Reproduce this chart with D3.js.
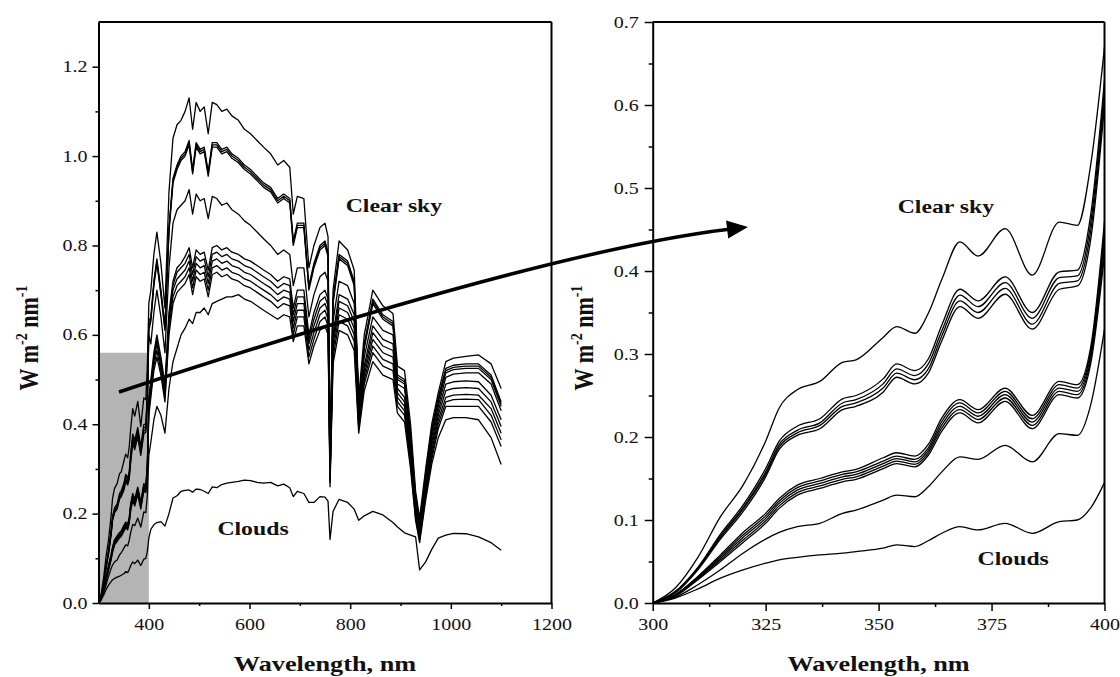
<!DOCTYPE html>
<html>
<head>
<meta charset="utf-8">
<script src="https://cdn.jsdelivr.net/npm/d3@7"></script>
<style>
  body { margin: 0; background: #fff; }
  svg { display: block; background: #fff; }
  text { font-family: 'Liberation Serif', 'Times New Roman', serif; fill: #111; }
  .tick text { font-size: 16px; }
  .title { font-size: 21px; font-weight: bold; }
  .ytitle { font-size: 22px; font-weight: bold; }
  .note { font-size: 19px; font-weight: bold; }
  .axis line { stroke: #000; stroke-width: 1.5; }
  .axis .domain { stroke: #000; stroke-width: 2; }
  .frame { stroke: #000; stroke-width: 2; }
  .spectrum { fill: none; stroke: #000; stroke-width: 1.3; stroke-linejoin: round; }
  .arrow { fill: none; stroke: #000; stroke-width: 3.5; }
</style>
</head>
<body>
<svg width="1120" height="677"></svg>
<script>
// wavelengths (nm) shared by every spectrum
var uvWavelengths = [300, 305, 310, 315, 320, 325, 328, 332, 337, 342, 345, 351,
  354, 358, 361, 364, 368, 372, 378, 384, 390, 394, 397, 400]

var visWavelengths = [404, 410, 416, 424, 432, 440, 448, 456, 464, 472,
  480, 487, 494, 502, 510, 518, 526, 535, 545, 555,
  565, 578, 590, 602, 615, 628, 642, 656, 668, 680,
  687, 695, 708, 718, 728, 740, 750, 756, 760, 766,
  778, 795, 808, 817, 828, 845, 865, 885, 894, 908,
  920, 930, 938, 950, 962, 975, 990, 1005, 1030, 1055,
  1080, 1100]

// one name per measured spectrum (11 clear sky, 1 cloudy)
var spectrumNames = ['clear 1', 'clear 2', 'clear 3', 'clear 4', 'clear 5', 'clear 6',
  'clear 7', 'clear 8', 'clear 9', 'clear 10', 'clear 11', 'clouds']

// irradiance in W m-2 nm-1, 300-400 nm (the zoomed part)
var uvValues = [
  [0, 0.018, 0.055, 0.104, 0.142, 0.195, 0.235, 0.257, 0.267, 0.29, 0.293, 0.32, 0.333, 0.325, 0.349, 0.39, 0.435, 0.418, 0.451, 0.395, 0.459, 0.455, 0.53, 0.67],
  [0, 0.014, 0.043, 0.083, 0.118, 0.162, 0.195, 0.213, 0.222, 0.246, 0.25, 0.27, 0.288, 0.28, 0.294, 0.335, 0.378, 0.364, 0.393, 0.35, 0.399, 0.401, 0.47, 0.63],
  [0, 0.013, 0.042, 0.081, 0.115, 0.158, 0.191, 0.208, 0.217, 0.241, 0.245, 0.264, 0.282, 0.274, 0.288, 0.328, 0.371, 0.357, 0.386, 0.343, 0.392, 0.394, 0.46, 0.62],
  [0, 0.013, 0.041, 0.079, 0.113, 0.155, 0.188, 0.205, 0.214, 0.237, 0.241, 0.259, 0.277, 0.269, 0.282, 0.322, 0.364, 0.35, 0.379, 0.336, 0.385, 0.388, 0.45, 0.61],
  [0, 0.012, 0.04, 0.077, 0.11, 0.152, 0.185, 0.202, 0.21, 0.233, 0.237, 0.254, 0.272, 0.264, 0.277, 0.316, 0.357, 0.343, 0.372, 0.33, 0.378, 0.382, 0.44, 0.60],
  [0, 0.01, 0.032, 0.058, 0.085, 0.108, 0.126, 0.142, 0.15, 0.158, 0.161, 0.175, 0.181, 0.177, 0.191, 0.223, 0.245, 0.233, 0.259, 0.226, 0.267, 0.263, 0.31, 0.46],
  [0, 0.01, 0.031, 0.056, 0.082, 0.105, 0.123, 0.139, 0.147, 0.155, 0.158, 0.171, 0.177, 0.173, 0.187, 0.219, 0.241, 0.229, 0.255, 0.222, 0.263, 0.259, 0.305, 0.45],
  [0, 0.009, 0.03, 0.054, 0.079, 0.102, 0.12, 0.136, 0.144, 0.152, 0.155, 0.168, 0.174, 0.17, 0.184, 0.215, 0.237, 0.225, 0.251, 0.218, 0.259, 0.255, 0.30, 0.44],
  [0, 0.009, 0.029, 0.052, 0.076, 0.099, 0.117, 0.133, 0.141, 0.149, 0.152, 0.165, 0.171, 0.167, 0.181, 0.211, 0.233, 0.221, 0.247, 0.214, 0.255, 0.251, 0.295, 0.43],
  [0, 0.008, 0.028, 0.05, 0.073, 0.096, 0.114, 0.13, 0.138, 0.146, 0.149, 0.162, 0.168, 0.164, 0.178, 0.207, 0.229, 0.217, 0.243, 0.21, 0.251, 0.247, 0.29, 0.42],
  [0, 0.007, 0.022, 0.04, 0.06, 0.077, 0.085, 0.092, 0.096, 0.108, 0.112, 0.124, 0.13, 0.128, 0.14, 0.158, 0.176, 0.173, 0.19, 0.17, 0.204, 0.202, 0.24, 0.33],
  [0, 0.006, 0.017, 0.03, 0.04, 0.048, 0.052, 0.055, 0.058, 0.06, 0.062, 0.066, 0.07, 0.068, 0.075, 0.084, 0.092, 0.088, 0.096, 0.084, 0.098, 0.1, 0.115, 0.145]
]

// irradiance in W m-2 nm-1, 404-1100 nm
var visValues = [
  [0.70, 0.78, 0.83, 0.76, 0.66, 0.92, 1.04, 1.07, 1.08, 1.10,
   1.13, 1.06, 1.12, 1.10, 1.11, 1.05, 1.12, 1.115, 1.10, 1.105,
   1.09, 1.08, 1.06, 1.05, 1.035, 1.02, 1.005, 0.98, 0.99, 0.975,
   0.87, 0.91, 0.905, 0.75, 0.80, 0.84, 0.85, 0.82, 0.33, 0.70,
   0.81, 0.79, 0.745, 0.46, 0.60, 0.70, 0.665, 0.648, 0.53, 0.52,
   0.40, 0.25, 0.19, 0.30, 0.40, 0.47, 0.54, 0.548, 0.552, 0.555,
   0.535, 0.48],
  [0.64, 0.72, 0.77, 0.70, 0.62, 0.84, 0.95, 0.98, 1.00, 1.01,
   1.035, 0.97, 1.03, 1.015, 1.02, 0.965, 1.03, 1.03, 1.015, 1.02,
   1.005, 0.995, 0.98, 0.97, 0.955, 0.94, 0.93, 0.905, 0.915, 0.905,
   0.81, 0.85, 0.85, 0.71, 0.76, 0.80, 0.81, 0.785, 0.32, 0.68,
   0.78, 0.765, 0.72, 0.45, 0.58, 0.68, 0.645, 0.63, 0.51, 0.50,
   0.38, 0.24, 0.18, 0.29, 0.39, 0.46, 0.525, 0.532, 0.535, 0.535,
   0.51, 0.45],
  [0.635, 0.715, 0.765, 0.695, 0.615, 0.835, 0.945, 0.975, 0.995, 1.005,
   1.03, 0.965, 1.025, 1.01, 1.015, 0.96, 1.025, 1.025, 1.01, 1.015,
   1.0, 0.99, 0.975, 0.965, 0.95, 0.935, 0.925, 0.90, 0.91, 0.90,
   0.805, 0.845, 0.845, 0.705, 0.755, 0.795, 0.805, 0.78, 0.315, 0.675,
   0.775, 0.76, 0.715, 0.445, 0.575, 0.675, 0.64, 0.625, 0.505, 0.495,
   0.375, 0.235, 0.175, 0.285, 0.385, 0.455, 0.52, 0.527, 0.53, 0.53,
   0.505, 0.445],
  [0.63, 0.71, 0.76, 0.69, 0.61, 0.83, 0.94, 0.97, 0.99, 1.00,
   1.025, 0.96, 1.02, 1.005, 1.01, 0.955, 1.02, 1.02, 1.005, 1.01,
   0.995, 0.985, 0.97, 0.96, 0.945, 0.93, 0.92, 0.895, 0.905, 0.895,
   0.80, 0.84, 0.84, 0.70, 0.75, 0.79, 0.80, 0.775, 0.31, 0.67,
   0.77, 0.755, 0.71, 0.44, 0.57, 0.67, 0.635, 0.62, 0.50, 0.49,
   0.37, 0.23, 0.17, 0.28, 0.38, 0.45, 0.515, 0.522, 0.525, 0.525,
   0.50, 0.44],
  [0.58, 0.65, 0.70, 0.64, 0.56, 0.75, 0.85, 0.88, 0.89, 0.90,
   0.925, 0.87, 0.915, 0.90, 0.905, 0.86, 0.91, 0.905, 0.89, 0.895,
   0.88, 0.87, 0.855, 0.845, 0.83, 0.815, 0.80, 0.78, 0.79, 0.78,
   0.71, 0.75, 0.75, 0.64, 0.69, 0.73, 0.74, 0.72, 0.30, 0.63,
   0.72, 0.71, 0.67, 0.43, 0.55, 0.64, 0.61, 0.60, 0.49, 0.48,
   0.36, 0.22, 0.165, 0.27, 0.37, 0.44, 0.505, 0.512, 0.515, 0.515,
   0.49, 0.43],
  [0.50, 0.56, 0.60, 0.55, 0.49, 0.65, 0.72, 0.75, 0.76, 0.775,
   0.795, 0.75, 0.79, 0.78, 0.785, 0.745, 0.795, 0.80, 0.79, 0.795,
   0.785, 0.78, 0.77, 0.765, 0.755, 0.745, 0.735, 0.72, 0.73, 0.725,
   0.66, 0.70, 0.70, 0.60, 0.65, 0.69, 0.70, 0.68, 0.29, 0.60,
   0.69, 0.68, 0.645, 0.42, 0.53, 0.62, 0.59, 0.58, 0.48, 0.46,
   0.35, 0.21, 0.16, 0.26, 0.36, 0.43, 0.49, 0.495, 0.497, 0.495,
   0.465, 0.41],
  [0.49, 0.55, 0.59, 0.54, 0.48, 0.64, 0.71, 0.74, 0.75, 0.76,
   0.78, 0.735, 0.775, 0.765, 0.77, 0.73, 0.78, 0.785, 0.775, 0.78,
   0.77, 0.765, 0.755, 0.75, 0.74, 0.73, 0.72, 0.705, 0.715, 0.71,
   0.645, 0.685, 0.685, 0.59, 0.635, 0.675, 0.685, 0.665, 0.285, 0.59,
   0.675, 0.665, 0.63, 0.41, 0.52, 0.605, 0.575, 0.565, 0.47, 0.45,
   0.34, 0.205, 0.155, 0.255, 0.35, 0.42, 0.475, 0.48, 0.482, 0.48,
   0.45, 0.395],
  [0.48, 0.54, 0.58, 0.53, 0.47, 0.63, 0.70, 0.725, 0.735, 0.745,
   0.765, 0.72, 0.76, 0.75, 0.755, 0.715, 0.765, 0.77, 0.76, 0.765,
   0.755, 0.75, 0.74, 0.735, 0.725, 0.715, 0.705, 0.69, 0.70, 0.695,
   0.63, 0.67, 0.67, 0.58, 0.62, 0.66, 0.67, 0.65, 0.28, 0.58,
   0.66, 0.65, 0.615, 0.40, 0.51, 0.59, 0.56, 0.55, 0.46, 0.44,
   0.33, 0.20, 0.15, 0.25, 0.34, 0.41, 0.46, 0.465, 0.467, 0.465,
   0.435, 0.38],
  [0.47, 0.53, 0.565, 0.52, 0.46, 0.615, 0.685, 0.71, 0.72, 0.73,
   0.75, 0.705, 0.745, 0.735, 0.74, 0.70, 0.75, 0.755, 0.745, 0.75,
   0.74, 0.735, 0.725, 0.72, 0.71, 0.70, 0.69, 0.675, 0.685, 0.68,
   0.615, 0.655, 0.655, 0.565, 0.605, 0.645, 0.655, 0.635, 0.275, 0.565,
   0.645, 0.635, 0.60, 0.395, 0.50, 0.575, 0.545, 0.535, 0.45, 0.43,
   0.32, 0.195, 0.145, 0.245, 0.33, 0.40, 0.45, 0.455, 0.456, 0.455,
   0.42, 0.365],
  [0.46, 0.52, 0.55, 0.51, 0.45, 0.60, 0.67, 0.695, 0.705, 0.715,
   0.735, 0.69, 0.73, 0.72, 0.725, 0.685, 0.735, 0.74, 0.73, 0.735,
   0.725, 0.72, 0.71, 0.705, 0.695, 0.685, 0.675, 0.66, 0.67, 0.665,
   0.60, 0.64, 0.64, 0.55, 0.59, 0.63, 0.64, 0.62, 0.27, 0.55,
   0.63, 0.62, 0.585, 0.39, 0.49, 0.56, 0.53, 0.52, 0.44, 0.42,
   0.31, 0.19, 0.14, 0.24, 0.32, 0.39, 0.44, 0.44, 0.44, 0.44,
   0.405, 0.35],
  [0.36, 0.41, 0.44, 0.42, 0.38, 0.48, 0.54, 0.57, 0.60, 0.615,
   0.635, 0.625, 0.65, 0.65, 0.66, 0.645, 0.67, 0.675, 0.68, 0.685,
   0.685, 0.69, 0.68, 0.675, 0.665, 0.655, 0.645, 0.635, 0.645, 0.64,
   0.585, 0.62, 0.62, 0.535, 0.575, 0.61, 0.62, 0.60, 0.26, 0.535,
   0.61, 0.60, 0.565, 0.38, 0.475, 0.54, 0.51, 0.50, 0.425, 0.405,
   0.30, 0.185, 0.135, 0.23, 0.31, 0.37, 0.41, 0.415, 0.415, 0.41,
   0.37, 0.31],
  [0.165, 0.175, 0.18, 0.182, 0.172, 0.20, 0.235, 0.24, 0.25, 0.252,
   0.253, 0.248, 0.255, 0.254, 0.25, 0.245, 0.26, 0.258, 0.265, 0.268,
   0.27, 0.272, 0.275, 0.274, 0.27, 0.268, 0.27, 0.262, 0.266, 0.258,
   0.238, 0.25, 0.245, 0.225, 0.225, 0.238, 0.237, 0.228, 0.142, 0.205,
   0.232, 0.225, 0.21, 0.185, 0.195, 0.205, 0.197, 0.18, 0.17, 0.157,
   0.152, 0.148, 0.074, 0.092, 0.12, 0.145, 0.152, 0.156, 0.155, 0.148,
   0.135, 0.118]
]

// tick values
var leftXTicks = [400, 600, 800, 1000, 1200]
var leftXMinor = [500, 700, 900, 1100]
var leftYTicks = [0, 0.2, 0.4, 0.6, 0.8, 1.0, 1.2]
var leftYMinor = [0.1, 0.3, 0.5, 0.7, 0.9, 1.1]
var rightXTicks = [300, 325, 350, 375, 400]
var rightXMinor = [312.5, 337.5, 362.5, 387.5]
var rightYTicks = [0, 0.1, 0.2, 0.3, 0.4, 0.5, 0.6, 0.7]
var rightYMinor = [0.05, 0.15, 0.25, 0.35, 0.45, 0.55, 0.65]

// sanity check on the typed arrays
spectrumNames.forEach(function(name, i) {
  if (uvValues[i].length != uvWavelengths.length || visValues[i].length != visWavelengths.length) {
    console.error('length mismatch for ' + name)
  }
})

var svg = d3.select('svg')
var plotTop = 22
var plotBottom = 603
var stretch = 1.25 // the scanned figure is a bit wider than tall

// stretch text horizontally around its anchor point
function widen(sel) {
  sel.each(function() {
    var t = d3.select(this)
    var x = +t.attr('x') || 0
    var y = +t.attr('y') || 0
    t.attr('transform', 'translate(' + x + ',' + y + ') scale(' + stretch + ',1) translate(' + -x + ',' + -y + ')')
  })
}

function drawPanel(p) {
  var g = svg.append('g')
  var x = d3.scaleLinear().domain(p.xDomain).range(p.xRange)
  var y = d3.scaleLinear().domain(p.yDomain).range([plotBottom, plotTop])

  // grey box marking the zoomed range
  if (p.shade) {
    g.append('rect')
      .attr('x', x(p.shade[0]))
      .attr('width', x(p.shade[1]) - x(p.shade[0]))
      .attr('y', y(p.shade[2]))
      .attr('height', y(0) - y(p.shade[2]))
      .attr('fill', '#b4b4b4')
  }

  var line = d3
    .line()
    .x(d => x(d[0]))
    .y(d => y(d[1]))
    .curve(p.curve)

  g.selectAll('.spectrum')
    .data(p.series)
    .enter()
    .append('path')
    .attr('class', 'spectrum')
    .attr('stroke-width', p.lineWidth)
    .attr('d', line)

  // top and right frame
  g.append('line').attr('class', 'frame')
    .attr('x1', p.xRange[0]).attr('x2', p.xRange[1])
    .attr('y1', plotTop).attr('y2', plotTop)
  g.append('line').attr('class', 'frame')
    .attr('x1', p.xRange[1]).attr('x2', p.xRange[1])
    .attr('y1', plotTop).attr('y2', plotBottom)

  // minor ticks
  g.append('g').attr('class', 'axis minor')
    .attr('transform', 'translate(0,' + plotBottom + ')')
    .call(d3.axisBottom(x).tickValues(p.xMinor).tickSize(p.minorSize).tickSizeOuter(0).tickFormat(''))
  g.append('g').attr('class', 'axis minor')
    .attr('transform', 'translate(' + p.xRange[0] + ',0)')
    .call(d3.axisLeft(y).tickValues(p.yMinor).tickSize(p.minorSize).tickSizeOuter(0).tickFormat(''))
  g.selectAll('.minor .domain').remove()

  // major ticks with labels
  var xAxis = g.append('g').attr('class', 'axis')
    .attr('transform', 'translate(0,' + plotBottom + ')')
    .call(d3.axisBottom(x).tickValues(p.xTicks).tickSize(p.majorSize).tickSizeOuter(0)
      .tickPadding(p.xPad).tickFormat(d3.format('d')))
  var yAxis = g.append('g').attr('class', 'axis')
    .attr('transform', 'translate(' + p.xRange[0] + ',0)')
    .call(d3.axisLeft(y).tickValues(p.yTicks).tickSize(p.majorSize).tickSizeOuter(0)
      .tickPadding(p.yPad).tickFormat(d3.format('.1f')))
  widen(xAxis.selectAll('text'))
  widen(yAxis.selectAll('text'))

  // axis titles
  var xt = svg.append('text').attr('class', 'title')
    .attr('x', (p.xRange[0] + p.xRange[1]) / 2)
    .attr('y', 671)
    .attr('text-anchor', 'middle')
    .text('Wavelength, nm')
  widen(xt)

  var yt = svg.append('text').attr('class', 'ytitle')
    .attr('text-anchor', 'middle')
    .attr('transform', 'translate(' + p.yTitleX + ',338) rotate(-90) scale(1,' + stretch + ')')
  yt.append('tspan').text('W m')
  yt.append('tspan').attr('dy', -9).attr('font-size', 14).text('-2')
  yt.append('tspan').attr('dy', 9).text(' nm')
  yt.append('tspan').attr('dy', -9).attr('font-size', 14).text('-1')

  // labels inside the plot
  p.notes.forEach(function(n) {
    var t = g.append('text').attr('class', 'note')
      .attr('x', x(n[0]))
      .attr('y', y(n[1]))
      .attr('text-anchor', 'middle')
      .text(n[2])
    widen(t)
  })

  return { x: x, y: y }
}

// full spectra, 300-1100 nm
var fullSeries = spectrumNames.map(function(name, i) {
  var wl = uvWavelengths.concat(visWavelengths)
  var val = uvValues[i].concat(visValues[i])
  return wl.map((w, j) => [w, val[j]])
})

// zoom, 300-400 nm
var uvSeries = spectrumNames.map(function(name, i) {
  return uvWavelengths.map((w, j) => [w, uvValues[i][j]])
})

drawPanel({
  xDomain: [300, 1200], xRange: [98.5, 551.5], yDomain: [0, 1.3],
  xTicks: leftXTicks, xMinor: leftXMinor, yTicks: leftYTicks, yMinor: leftYMinor,
  majorSize: 6, minorSize: 3, xPad: 10, yPad: 5,
  series: fullSeries, curve: d3.curveLinear, lineWidth: 1.3,
  shade: [300, 400, 0.56],
  yTitleX: 38,
  notes: [[887, 0.875, 'Clear sky'], [607, 0.152, 'Clouds']]
})

drawPanel({
  xDomain: [300, 400], xRange: [652.7, 1104.5], yDomain: [0, 0.7],
  xTicks: rightXTicks, xMinor: rightXMinor, yTicks: rightYTicks, yMinor: rightYMinor,
  majorSize: 8, minorSize: 4, xPad: 8, yPad: 6,
  series: uvSeries, curve: d3.curveMonotoneX, lineWidth: 1.2,
  yTitleX: 593,
  notes: [[364.9, 0.47, 'Clear sky'], [379.8, 0.046, 'Clouds']]
})

// curved arrow linking the grey box to the zoomed panel
var arrowStart = [119, 392]
var arrowBend = [547, 251]
var arrowTip = [748, 227]
var headLength = 21
var headHalf = 9

var dx = arrowTip[0] - arrowBend[0]
var dy = arrowTip[1] - arrowBend[1]
var len = Math.sqrt(dx * dx + dy * dy)
var ux = dx / len
var uy = dy / len
var base = [arrowTip[0] - ux * headLength, arrowTip[1] - uy * headLength]

var shaft = d3.path()
shaft.moveTo(arrowStart[0], arrowStart[1])
shaft.quadraticCurveTo(arrowBend[0], arrowBend[1], base[0] + ux * 2, base[1] + uy * 2)
svg.append('path').attr('class', 'arrow').attr('d', shaft.toString())

var head = d3.path()
head.moveTo(arrowTip[0], arrowTip[1])
head.lineTo(base[0] - uy * headHalf, base[1] + ux * headHalf)
head.lineTo(base[0] + uy * headHalf, base[1] - ux * headHalf)
head.closePath()
svg.append('path').attr('d', head.toString()).attr('fill', '#000')
</script>
</body>
</html>
